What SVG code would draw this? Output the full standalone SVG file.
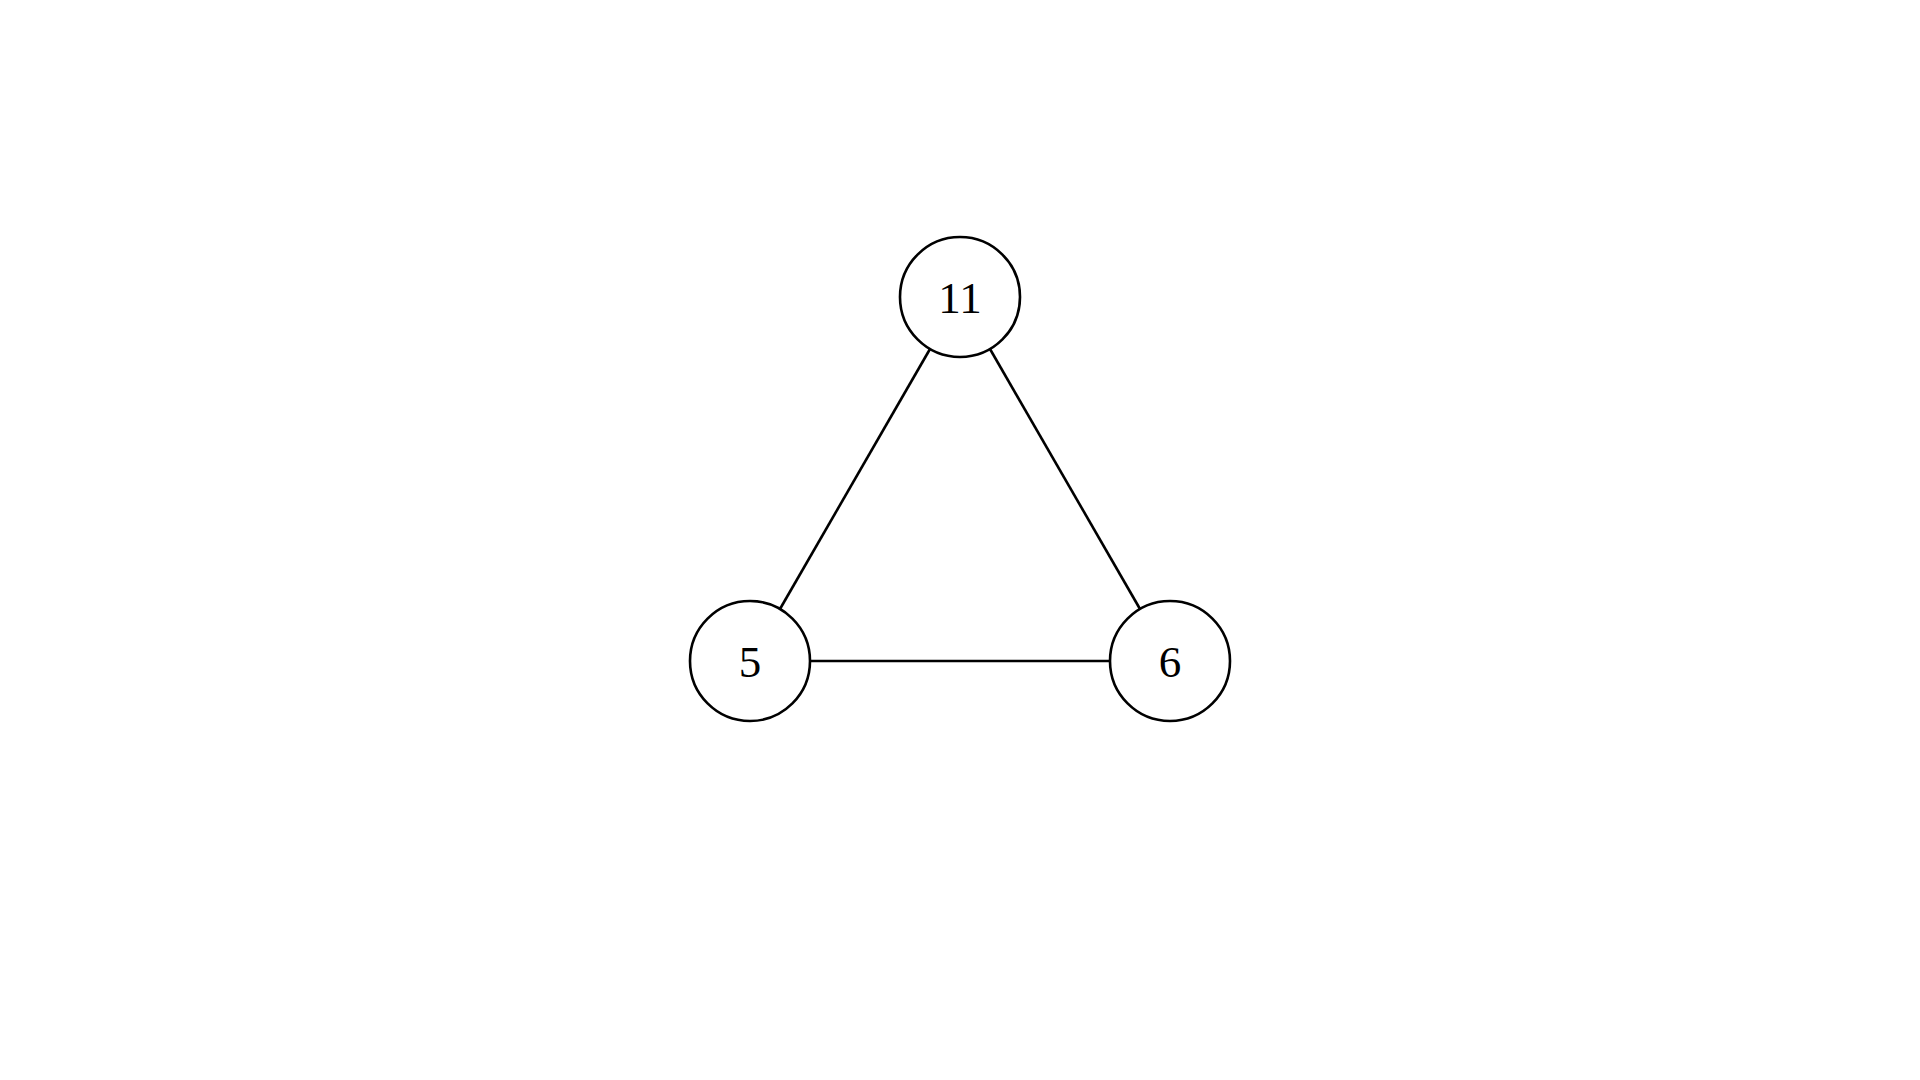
<svg xmlns="http://www.w3.org/2000/svg" width="1920" height="1080" viewBox="0 0 1920 1080">
<style>
.node circle { fill: #ffffff; stroke: #000000; stroke-width: 2.6; }
.node text { font-family: "Liberation Serif", "DejaVu Serif", serif; font-size: 45px; fill: #000000; text-anchor: middle; }
.edges line { stroke: #000000; stroke-width: 2.6; }
</style>
<rect width="1920" height="1080" fill="#ffffff"/>
<g id="edges" class="edges">
<line x1="930" y1="349" x2="780" y2="609"/>
<line x1="990" y1="349" x2="1140" y2="609"/>
<line x1="810" y1="661" x2="1110" y2="661"/>
</g>
<g id="node-11" class="node">
<circle cx="960" cy="297" r="60"/>
<text x="960" y="312.5">11</text>
</g>
<g id="node-5" class="node">
<circle cx="750" cy="661" r="60"/>
<text x="750" y="676.5">5</text>
</g>
<g id="node-6" class="node">
<circle cx="1170" cy="661" r="60"/>
<text x="1170" y="676.5">6</text>
</g>
</svg>
